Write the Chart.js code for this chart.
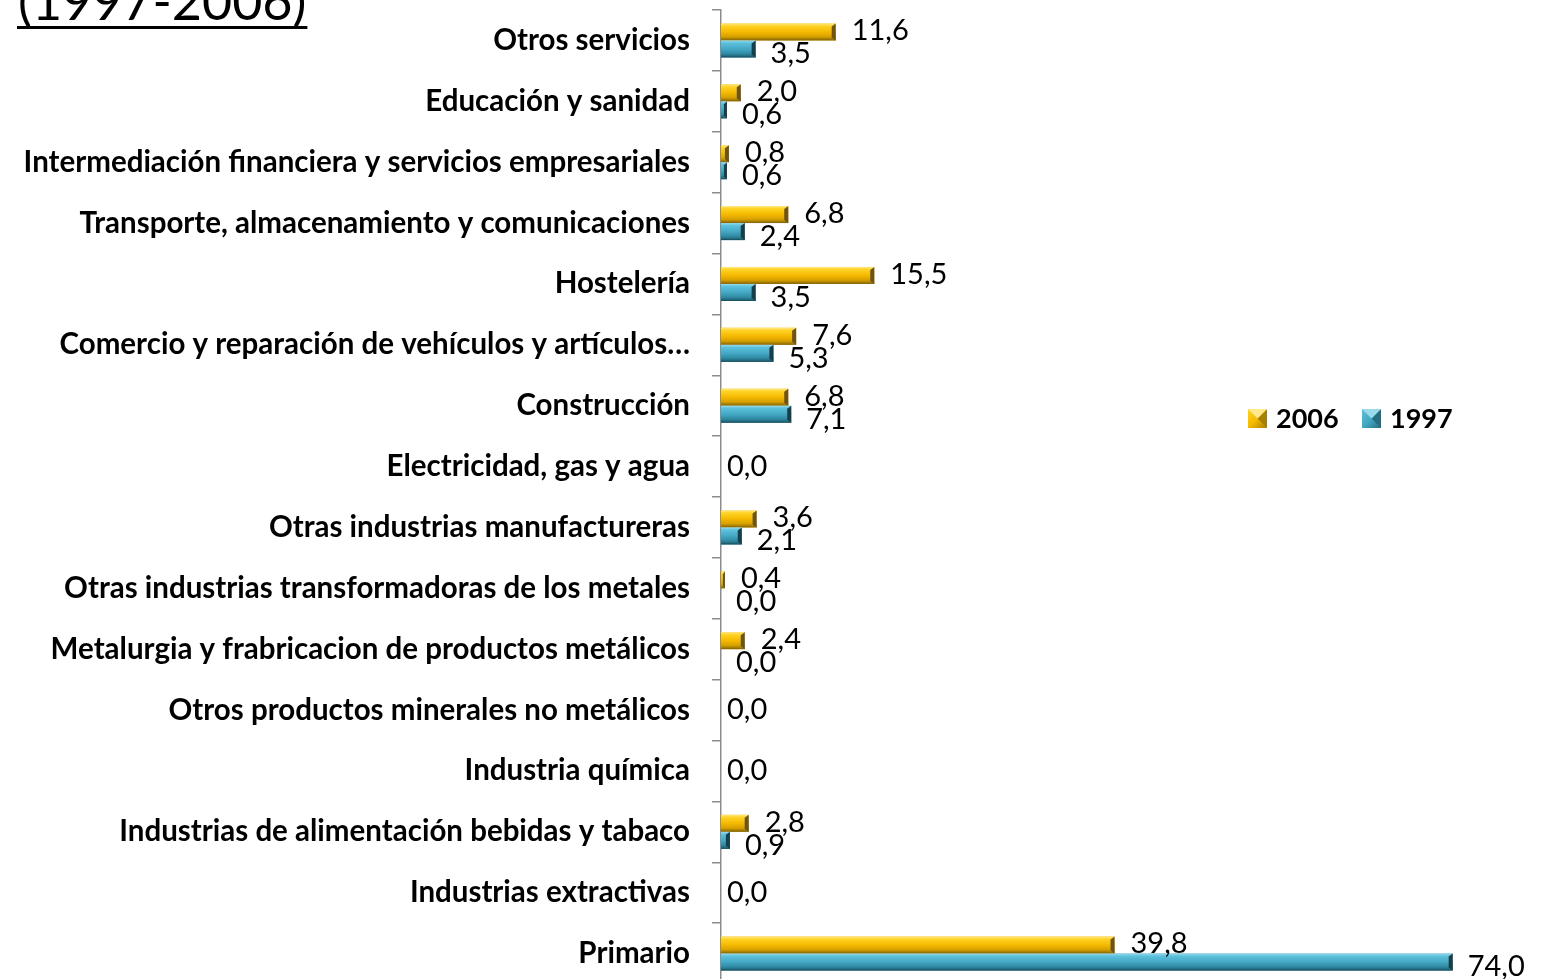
<!DOCTYPE html>
<html>
<head>
<meta charset="utf-8">
<script src="https://cdn.jsdelivr.net/npm/chart.js@4.4.1/dist/chart.umd.min.js"></script>
<style>
  html, body { margin:0; padding:0; background:#fff; overflow:hidden; }
  #wrap { position:relative; width:1544px; height:990px; }
</style>
</head>
<body>
<div id="wrap"><canvas id="c"></canvas></div>
<script>
const titleText = '(1997-2006)';
const categories = [
  'Otros servicios',
  'Educación y sanidad',
  'Intermediación financiera y servicios empresariales',
  'Transporte, almacenamiento y comunicaciones',
  'Hostelería',
  'Comercio y reparación de vehículos y artículos…',
  'Construcción',
  'Electricidad, gas y agua',
  'Otras industrias manufactureras',
  'Otras industrias transformadoras de los metales',
  'Metalurgia y frabricacion de productos metálicos',
  'Otros productos minerales no metálicos',
  'Industria química',
  'Industrias de alimentación bebidas y tabaco',
  'Industrias extractivas',
  'Primario'
];
const seriesNames = ['2006', '1997'];
const values2006 = [11.6, 2.0, 0.8, 6.8, 15.5, 7.6, 6.8, 0.0, 3.6, 0.4, 2.4, 0.0, 0.0, 2.8, 0.0, 39.8];
const values1997 = [3.5, 0.6, 0.6, 2.4, 3.5, 5.3, 7.1, 0.0, 2.1, 0.0, 0.0, 0.0, 0.0, 0.9, 0.0, 74.0];

const STYLES = [
  { base:'#F5B800', stops:[[0,'#FFE98A'],[0.15,'#FFD325'],[0.5,'#F5B900'],[0.78,'#D6A000'],[0.9,'#A88000'],[1,'#7A5E12']], cap:'#6E5410' },
  { base:'#43A6C2', stops:[[0,'#9ADAEB'],[0.15,'#5CC1DD'],[0.5,'#44A8C4'],[0.78,'#2F8AA3'],[0.9,'#236E82'],[1,'#164652']], cap:'#173F4A' }
];

function fmt(v){ return v.toFixed(1).replace('.', ','); }

function bevelFill(ctx, l, t, r, b, st){
  const g = ctx.createLinearGradient(0, t, 0, b);
  st.stops.forEach(s => g.addColorStop(s[0], s[1]));
  ctx.fillStyle = g;
  ctx.fillRect(l, t, r - l, b - t);
  const w = Math.min(4, (r - l) / 2);
  if (w > 0.5) {
    ctx.fillStyle = st.cap;
    ctx.beginPath();
    ctx.moveTo(r - w, t + 3); ctx.lineTo(r, t); ctx.lineTo(r, b); ctx.lineTo(r - w, b - 3);
    ctx.closePath(); ctx.fill();
  }
}

const decoPlugin = {
  id: 'deco',
  afterDatasetsDraw(chart) {
    const ctx = chart.ctx;
    ctx.save();
    chart.data.datasets.forEach((ds, di) => {
      const meta = chart.getDatasetMeta(di);
      meta.data.forEach(el => {
        const p = el.getProps(['x','y','base','height'], true);
        const t = p.y - p.height / 2, b = p.y + p.height / 2;
        if (p.x - p.base > 0.3) bevelFill(ctx, p.base, t, p.x, b, STYLES[di]);
      });
    });
    // value labels
    ctx.fillStyle = '#000';
    ctx.font = '29px Lato';
    ctx.textBaseline = 'middle';
    ctx.textAlign = 'left';
    const m0 = chart.getDatasetMeta(0), m1 = chart.getDatasetMeta(1);
    const yScale = chart.scales.y;
    categories.forEach((c, i) => {
      const a = values2006[i], bb = values1997[i];
      if (a === 0 && bb === 0) {
        const yc = yScale.getPixelForValue(i);
        ctx.fillText(fmt(0), m0.data[i].base + 6, yc);
        return;
      }
      const e0 = m0.data[i], e1 = m1.data[i];
      ctx.fillText(fmt(a), e0.x + 16, e0.y - 1);
      ctx.fillText(fmt(bb), e1.x + 15, e1.y + 5);
    });
    // legend
    ctx.font = 'bold 27px Lato';
    const lx = [1248, 1362], ly = 409;
    seriesNames.forEach((n, k) => {
      const x0 = lx[k];
      const st = STYLES[k];
      const g = ctx.createLinearGradient(x0, ly, x0 + 19, ly + 19);
      g.addColorStop(0, st.stops[1][1]); g.addColorStop(0.5, st.stops[2][1]); g.addColorStop(1, st.stops[4][1]);
      ctx.fillStyle = g;
      ctx.fillRect(x0, ly, 19, 19);
      ctx.fillStyle = st.stops[4][1];
      ctx.beginPath(); ctx.moveTo(x0 + 19, ly); ctx.lineTo(x0 + 19, ly + 19); ctx.lineTo(x0 + 9.5, ly + 9.5); ctx.closePath(); ctx.fill();
      ctx.fillStyle = st.stops[0][1];
      ctx.beginPath(); ctx.moveTo(x0, ly); ctx.lineTo(x0 + 19, ly); ctx.lineTo(x0 + 9.5, ly + 9.5); ctx.closePath(); ctx.fill();
      ctx.fillStyle = '#000';
      ctx.fillText(n, x0 + 28, ly + 10);
    });
    // title
    ctx.font = '52px Lato';
    ctx.textBaseline = 'alphabetic';
    ctx.fillText(titleText, 18, 20);
    const tw = ctx.measureText(titleText).width;
    ctx.fillRect(17, 26, tw + 2, 3);
    ctx.restore();
  }
};

function build(){
  new Chart(document.getElementById('c'), {
    type: 'bar',
    data: {
      labels: categories,
      datasets: [
        { label: seriesNames[0], data: values2006, backgroundColor: STYLES[0].base, categoryPercentage: 0.56, barPercentage: 1.0 },
        { label: seriesNames[1], data: values1997, backgroundColor: STYLES[1].base, categoryPercentage: 0.56, barPercentage: 1.0 }
      ]
    },
    options: {
      indexAxis: 'y',
      responsive: true,
      maintainAspectRatio: false,
      animation: false,
      layout: { padding: { left: 0, right: 32, top: 10, bottom: 6 } },
      plugins: { legend: { display: false }, tooltip: { enabled: false } },
      scales: {
        x: { display: false, min: 0, max: 80 },
        y: {
          afterFit(scale) { scale.width = 721; scale.paddingTop = 0; scale.paddingBottom = 0; },
          grid: { offset: true, drawOnChartArea: false, drawTicks: true, tickLength: 9, color: '#8C8C8C', lineWidth: 1.5 },
          border: { display: true, color: '#8C8C8C', width: 1.5 },
          ticks: { autoSkip: false, padding: 22, color: '#000', font: { family: 'Lato', weight: 'bold', size: 29.5 } }
        }
      }
    },
    plugins: [decoPlugin]
  });
}
Promise.all([document.fonts.load('bold 29.5px Lato'), document.fonts.load('29px Lato')]).then(build, build);
</script>
</body>
</html>
